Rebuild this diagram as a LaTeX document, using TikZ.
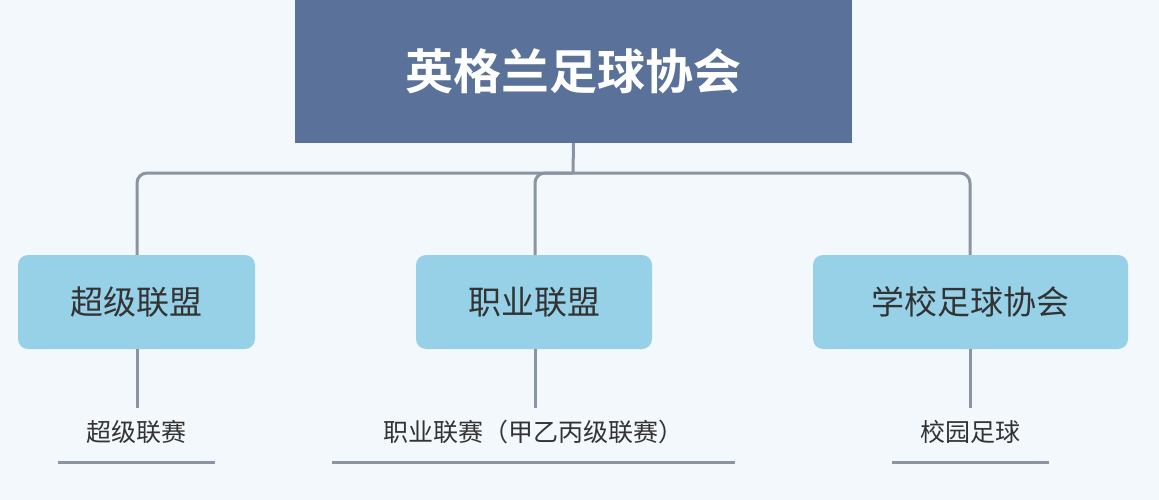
\documentclass[tikz,border=0pt]{standalone}
\usepackage{fontspec}
\setmainfont{Noto Sans CJK SC}
\newfontfamily\cjkb{Noto Sans CJK SC Bold}
\begin{document}
\begin{tikzpicture}[x=1pt,y=-1pt,
  conn/.style={draw=linec,line width=3pt,rounded corners=10pt},
  sub/.style={fill=boxc,rounded corners=10pt,text=txt,font=\fontsize{33}{40}\selectfont,inner sep=0pt},
  leaf/.style={text=txt,font=\fontsize{25}{30}\selectfont,inner sep=0pt}]
\definecolor{bg}{HTML}{F3F8FD}
\definecolor{topc}{HTML}{5A7299}
\definecolor{boxc}{HTML}{97D1E8}
\definecolor{linec}{HTML}{8A94A3}
\definecolor{txt}{HTML}{333333}
\fill[bg] (0,0) rectangle (1159,500);
\useasboundingbox (0,0) rectangle (1159,500);
\node[fill=topc,minimum width=557pt,minimum height=143pt,inner sep=0pt,text=white,font=\cjkb\fontsize{48}{56}\selectfont] (top) at (573.5,71.5) {英格兰足球协会};
\node[sub,minimum width=237pt,minimum height=94pt] (a) at (136.5,302) {超级联盟};
\node[sub,minimum width=236pt,minimum height=94pt] (b) at (534,302) {职业联盟};
\node[sub,minimum width=315pt,minimum height=94pt] (c) at (970.5,302) {学校足球协会};
\coordinate (j) at (573,173);
\draw[conn] (top.south) -- (j);
\draw[conn] (j) -- (137,173) -- (a.north -| 137,0);
\draw[conn] (j) -- (970,173) -- (c.north -| 970,0);
\draw[conn] (j) -- (535,173) -- (b.north -| 535,0);
\node[leaf] (la) at (136.5,432) {超级联赛};
\node[leaf] (lb) at (533.5,432) {职业联赛（甲乙丙级联赛）};
\node[leaf] (lc) at (970.5,432) {校园足球};
\draw[conn] (a.south -| 137,0) -- (137,408);
\draw[conn] (b.south -| 535,0) -- (535,408);
\draw[conn] (c.south -| 970,0) -- (970,408);
\coordinate (ua1) at (58,462); \coordinate (ua2) at (215,462);
\coordinate (ub1) at (332,462); \coordinate (ub2) at (735,462);
\coordinate (uc1) at (892,462); \coordinate (uc2) at (1049,462);
\draw[linec,line width=3pt] (ua1) -- (ua2) (ub1) -- (ub2) (uc1) -- (uc2);
\end{tikzpicture}
\end{document}
